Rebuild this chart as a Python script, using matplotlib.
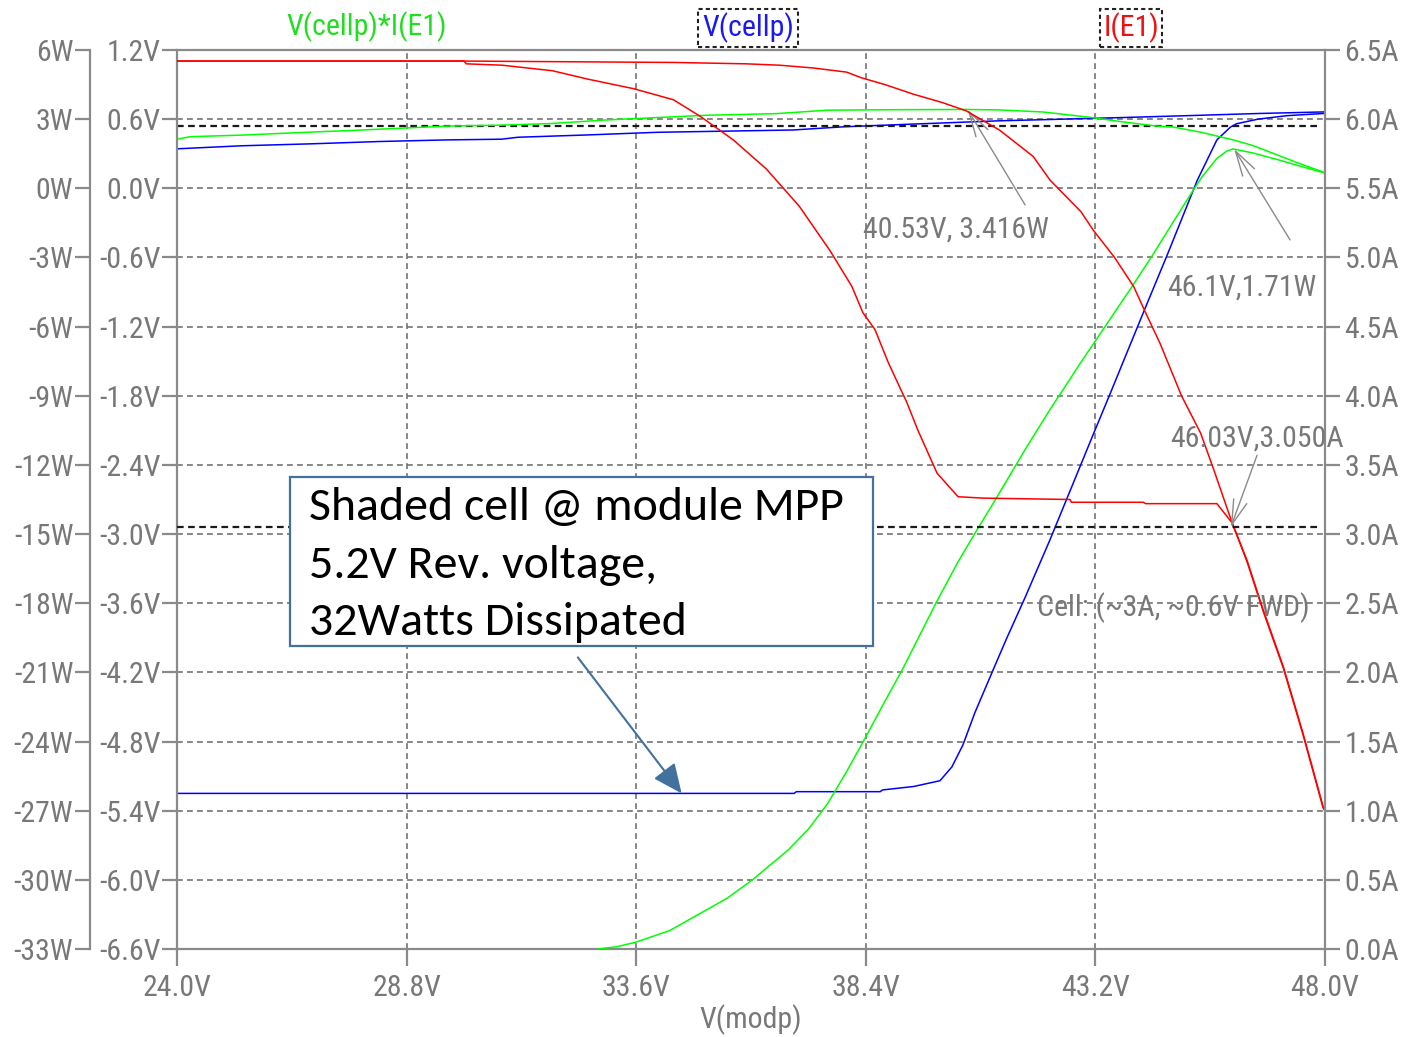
import matplotlib
matplotlib.use('Agg')
import matplotlib.pyplot as plt
from matplotlib import font_manager
from matplotlib.patches import Rectangle
from matplotlib.ticker import FixedLocator, FuncFormatter


def pick_font(names):
    for n in names:
        try:
            font_manager.findfont(font_manager.FontProperties(family=n), fallback_to_default=False)
            return n
        except ValueError:
            pass
    return 'DejaVu Sans'


# LTspice draws its labels in a narrow Arial-like face
NARROW = pick_font(['Liberation Sans Narrow', 'Roboto Condensed', 'Archivo Narrow', 'Liberation Sans'])
FS = {'Liberation Sans Narrow': 21.5, 'Roboto Condensed': 21.5, 'Archivo Narrow': 21.0}.get(NARROW, 18.5)
BOXFONT = pick_font(['Carlito', 'Lato', 'Open Sans'])

GRAY = '#787878'
GRID = '#737373'
SPINE = '#8a8a8a'

# ---- data (x = V(modp) in volts) ----
# I(E1), amps - first sweep
red_a_x = [24.0, 30.0, 34.4, 35.9, 36.6, 37.3, 38.0, 38.3, 38.8, 39.4, 40.0, 40.5,
           41.2, 41.9, 42.25, 42.9, 43.15, 43.6, 44.0, 44.25, 44.55, 45.0, 45.4,
           45.66, 46.06, 46.37, 46.71, 47.13, 47.54, 47.96, 48.0]
red_a_y = [6.42, 6.42, 6.41, 6.40, 6.39, 6.37, 6.34, 6.30, 6.25, 6.18, 6.12, 6.06,
           5.92, 5.73, 5.56, 5.33, 5.20, 5.00, 4.79, 4.60, 4.38, 4.00, 3.73,
           3.48, 3.08, 2.81, 2.45, 2.04, 1.56, 1.03, 1.00]
# I(E1), amps - shaded sweep
red_b_x = [24.0, 30.0, 30.05, 30.8, 31.85, 32.58, 33.55, 34.38, 34.94, 35.63, 36.32,
           37.01, 37.65, 38.11, 38.34, 38.59, 38.87, 39.26, 39.49, 39.89, 40.33,
           40.85, 42.67, 42.7, 44.2, 44.25, 45.74, 46.06, 46.37, 46.71, 47.13,
           47.54, 47.96, 48.0]
red_b_y = [6.42, 6.42, 6.40, 6.39, 6.35, 6.29, 6.22, 6.14, 6.02, 5.85, 5.64,
           5.37, 5.05, 4.79, 4.60, 4.48, 4.24, 3.95, 3.75, 3.44, 3.27,
           3.26, 3.25, 3.23, 3.23, 3.22, 3.22, 3.08, 2.80, 2.44, 2.03,
           1.55, 1.02, 1.00]
# V(cellp)*I(E1), watts
green_a_x = [24.0, 24.28, 25.39, 26.46, 27.54, 28.61, 29.65, 30.78, 31.82, 32.93,
             34.04, 35.08, 36.53, 37.6, 39.0, 40.5, 41.2, 42.11, 43.05, 43.78,
             44.49, 44.82, 45.39, 46.08, 46.5, 47.0, 47.5, 48.0]
green_a_y = [2.13, 2.24, 2.31, 2.41, 2.50, 2.60, 2.70, 2.74, 2.81, 2.96,
             3.07, 3.17, 3.24, 3.39, 3.41, 3.42, 3.40, 3.31, 3.09, 2.88,
             2.70, 2.66, 2.44, 2.10, 1.85, 1.45, 1.05, 0.68]
green_b_x = [32.8, 33.2, 33.6, 34.3, 34.9, 35.5, 36.03, 36.78, 37.2, 37.6, 38.0,
             38.4, 38.76, 39.16, 39.5, 39.89, 40.33, 40.73, 41.14, 41.77, 42.25,
             42.52, 42.88, 43.19, 43.97, 44.38, 44.8, 45.24, 45.43, 45.74, 45.95,
             46.08, 46.5, 47.0, 47.5, 48.0]
green_b_y = [-33.0, -32.9, -32.7, -32.2, -31.5, -30.8, -30.0, -28.7, -27.8, -26.7, -25.3,
             -23.8, -22.4, -20.9, -19.5, -17.9, -16.2, -14.8, -13.4, -11.2, -9.6,
             -8.75, -7.6, -6.65, -4.25, -2.95, -1.55, -0.1, 0.5, 1.3, 1.62,
             1.71, 1.53, 1.25, 0.95, 0.66]
# V(cellp), volts
blue_a_x = [24.0, 24.02, 25.35, 26.81, 28.23, 29.65, 30.78, 31.13, 32.58, 34.04,
            36.88, 37.95, 39.37, 41.22, 42.26, 43.76, 45.18, 46.6, 48.0]
blue_a_y = [0.334, 0.343, 0.369, 0.386, 0.406, 0.42, 0.426, 0.443, 0.463, 0.486,
            0.506, 0.534, 0.557, 0.586, 0.597, 0.614, 0.631, 0.649, 0.663]
blue_b_x = [24.0, 36.9, 36.95, 38.7, 38.75, 39.4, 39.95, 40.2, 40.43, 40.68, 41.06,
            41.35, 41.73, 42.25, 43.15, 43.51, 44.24, 44.7, 45.33, 45.74, 46.02,
            46.15, 46.6, 47.2, 48.0]
blue_b_y = [-5.25, -5.25, -5.235, -5.235, -5.22, -5.19, -5.14, -5.02, -4.83, -4.55, -4.18,
            -3.90, -3.55, -3.05, -2.14, -1.78, -1.04, -0.58, 0.07, 0.42, 0.53,
            0.56, 0.60, 0.63, 0.65]

x_ticks = [24.0, 28.8, 33.6, 38.4, 43.2, 48.0]
v_ticks = [round(-6.6 + 0.6 * i, 1) for i in range(14)]
w_ticks = [-33 + 3 * i for i in range(14)]
a_ticks = [round(0.5 * i, 1) for i in range(14)]

cursor_v = 0.54
cursor_a = 3.05

# ---- figure ----
fig = plt.figure(figsize=(14.01, 10.37), dpi=100)
ax = fig.add_axes([177 / 1401, 1 - 949 / 1037, 1148 / 1401, 899 / 1037])
ax_w = ax.twinx()
ax_a = ax.twinx()

ax.set_xlim(24, 48)
ax.set_ylim(-6.6, 1.2)
ax_w.set_ylim(-33, 6)
ax_a.set_ylim(0, 6.5)

tfont = dict(family=NARROW, size=FS)

ax.xaxis.set_major_locator(FixedLocator(x_ticks))
ax.xaxis.set_major_formatter(FuncFormatter(lambda v, p: f'{v:.1f}V'))
ax.yaxis.set_major_locator(FixedLocator(v_ticks))
ax.yaxis.set_major_formatter(FuncFormatter(lambda v, p: f'{v:.1f}V'))
ax_w.yaxis.set_major_locator(FixedLocator(w_ticks))
ax_w.yaxis.set_major_formatter(FuncFormatter(lambda v, p: f'{v:.0f}W'))
ax_a.yaxis.set_major_locator(FixedLocator(a_ticks))
ax_a.yaxis.set_major_formatter(FuncFormatter(lambda v, p: f'{v:.1f}A'))

for a in (ax, ax_w, ax_a):
    for s in a.spines.values():
        s.set_color(SPINE)
        s.set_linewidth(1.6)

ax.spines['right'].set_visible(False)
for k in ('top', 'bottom', 'right'):
    ax_w.spines[k].set_visible(False)
ax_w.spines['left'].set_visible(True)
ax_w.spines['left'].set_position(('axes', -87 / 1148))
ax_w.yaxis.set_ticks_position('left')
for k in ('top', 'bottom', 'left'):
    ax_a.spines[k].set_visible(False)

ax.tick_params(axis='y', length=11, width=1.6, color=SPINE, labelcolor=GRAY, pad=1)
ax.tick_params(axis='x', length=12, width=1.6, color=SPINE, labelcolor=GRAY, pad=6)
ax_w.tick_params(axis='y', length=11, width=1.6, color=SPINE, labelcolor=GRAY, pad=1)
ax_a.tick_params(axis='y', length=11, width=1.6, color=SPINE, labelcolor=GRAY, pad=3)
for a in (ax, ax_w, ax_a):
    for lab in a.get_xticklabels() + a.get_yticklabels():
        lab.set_fontfamily(NARROW)
        lab.set_fontsize(FS)

ax.grid(True, color=GRID, lw=1.2, ls=(0, (3.5, 2.5)))
ax.set_xlabel('V(modp)', color=GRAY, labelpad=2, **tfont)

# traces
ax.plot(blue_a_x, blue_a_y, color='#0000ff', lw=1.1)
ax.plot(blue_b_x, blue_b_y, color='#0000ff', lw=1.1)
ax_w.plot(green_a_x, green_a_y, color='#00ff00', lw=1.1)
ax_w.plot(green_b_x, green_b_y, color='#00ff00', lw=1.1)
ax_a.plot(red_a_x, red_a_y, color='#ff0000', lw=1.1)
ax_a.plot(red_b_x, red_b_y, color='#ff0000', lw=1.1)

# cursors
ax.axhline(cursor_v, xmax=0.996, color='#1a1a1a', lw=1.6, ls=(0, (3, 2)))
ax_a.axhline(cursor_a, xmax=0.996, color='#1a1a1a', lw=1.6, ls=(0, (3, 2)))

# trace names
fig.text(367 / 1401, 1 - 27 / 1037, 'V(cellp)*I(E1)', color='#22dd22', ha='center', va='center', **tfont)
fig.text(748 / 1401, 1 - 28 / 1037, 'V(cellp)', color='#1a1aee', ha='center', va='center',
         bbox=dict(boxstyle='square,pad=0.12', fc='none', ec='#222222', ls=(0, (2, 1.5)), lw=1.5), **tfont)
fig.text(1131 / 1401, 1 - 28 / 1037, 'I(E1)', color='#ee1111', ha='center', va='center',
         bbox=dict(boxstyle='square,pad=0.12', fc='none', ec='#222222', ls=(0, (2, 1.5)), lw=1.5), **tfont)

# cursor readouts
arrow_g = dict(arrowstyle='->,head_length=0.9,head_width=0.25', color='#8a8a8a', lw=1.0,
               shrinkA=0, shrinkB=0, mutation_scale=20)
ax_w.annotate('', xy=(40.53, 3.416), xytext=(41.73, -0.72), arrowprops=arrow_g)
ax_w.text(38.34, -1.81, '40.53V, 3.416W', color=GRAY, ha='left', va='center', **tfont)
ax_w.annotate('', xy=(46.1, 1.71), xytext=(47.27, -2.24), arrowprops=arrow_g)
ax_w.text(44.7, -4.32, '46.1V,1.71W', color=GRAY, ha='left', va='center', **tfont)
ax_a.annotate('', xy=(46.03, 3.05), xytext=(46.58, 3.57), arrowprops=arrow_g)
ax_a.text(44.76, 3.69, '46.03V,3.050A', color=GRAY, ha='left', va='center', **tfont)
ax_a.text(41.98, 2.47, 'Cell: (~3A, ~0.6V FWD)', color=GRAY, ha='left', va='center', **tfont)

# callout box
ax_a.add_patch(Rectangle((0.0984, 0.337), 0.5079, 0.188, transform=ax_a.transAxes,
                         fc='white', ec='#41719c', lw=1.6, zorder=10))
ax_a.text(0.115, 0.5135, 'Shaded cell @ module MPP\n5.2V Rev. voltage,\n32Watts Dissipated',
          transform=ax_a.transAxes, ha='left', va='top', family=BOXFONT, size=34.5,
          linespacing=1.49, color='black', zorder=11)
ax_a.annotate('', xy=(34.55, -5.25), xycoords=ax.transData, xytext=(32.38, -4.07),
              textcoords=ax.transData, zorder=11,
              arrowprops=dict(arrowstyle='-|>,head_length=1.0,head_width=0.45', color='#41719c',
                              lw=1.5, mutation_scale=18, shrinkA=0, shrinkB=0))

fig.savefig('out.png', dpi=100)
